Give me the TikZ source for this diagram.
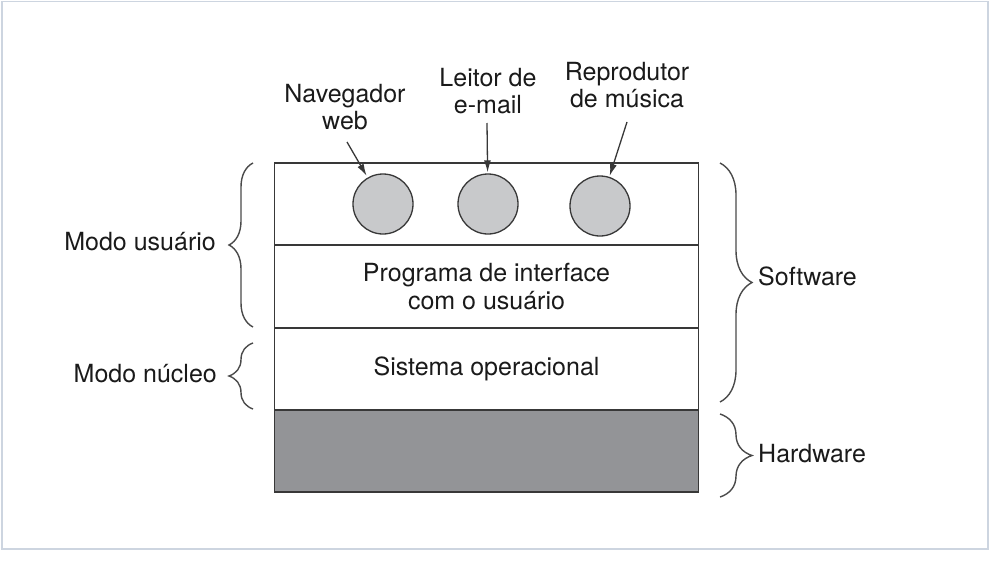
\documentclass[tikz,border=0pt]{standalone}
\usepackage{fontspec}
\setmainfont{TeX Gyre Heros}
\usetikzlibrary{decorations.pathreplacing,arrows.meta}
\definecolor{framec}{HTML}{CDD5E0}
\definecolor{linec}{HTML}{383838}
\definecolor{bracec}{HTML}{4A4A4A}
\definecolor{txtc}{HTML}{1A1A1A}
\definecolor{hwfill}{HTML}{939497}
\definecolor{cfill}{HTML}{C8C9CB}
\tikzset{
  layer/.style={draw=linec, line width=1.4pt, minimum width=424pt, minimum height=82pt, inner sep=0pt, outer sep=0pt, align=center, text=txtc},
  proc/.style={circle, draw=linec, line width=1.3pt, fill=cfill, minimum size=60pt, inner sep=0pt},
  lbl/.style={text=txtc, align=center, inner sep=0pt},
  arr/.style={draw=linec, line width=1.3pt, -{Latex[length=12pt,width=7pt]}},
  brc/.style={draw=bracec, line width=1.4pt, decorate, decoration={brace, amplitude=#1}},
}
\begin{document}
\begin{tikzpicture}[x=1pt, y=-1pt, font=\fontsize{25}{27.5}\selectfont]
\useasboundingbox (0,0) rectangle (991,562);
\draw[framec, line width=1.5pt] (2,1.5) rectangle (988,549);
% layers
\node[layer] (apps) at (486.5,204) {};
\node[layer] (ui) at (486.5,286.5) {Programa de interface\\com o usuário};
\node[layer] (os) at (486.5,369) {Sistema operacional};
\node[layer, fill=hwfill] (hw) at (486.5,451) {};
% processes
\node[proc] (c1) at (383,204) {};
\node[proc] (c2) at (488,204) {};
\node[proc] (c3) at (600,206) {};
% labels
\node[lbl] (nav) at (345,107) {Navegador\\web};
\node[lbl] (mail) at (488,91) {Leitor de\\e-mail};
\node[lbl] (mus) at (627,85) {Reprodutor\\de música};
\coordinate (s1) at (347,142);
\coordinate (s2) at (487,123);
\coordinate (s3) at (627,122);
\draw[arr, shorten >=2pt] (s1) -- (c1);
\draw[arr, shorten >=1pt] (s2) -- (c2);
\draw[arr, shorten >=1pt] (s3) -- (c3);
% braces left
\coordinate (bu1) at (253,327);
\coordinate (bu2) at (253,163);
\coordinate (bk1) at (253,409);
\coordinate (bk2) at (253,343);
\draw[brc=24pt] (bu1) -- (bu2);
\draw[brc=24pt] (bk1) -- (bk2);
\node[lbl, anchor=east] (mu) at (216,242) {Modo usuário};
\node[lbl, anchor=east] (mn) at (217,374) {Modo núcleo};
% braces right
\coordinate (bs1) at (720,163);
\coordinate (bs2) at (720,402);
\coordinate (bh1) at (720,414);
\coordinate (bh2) at (720,497);
\draw[brc=32pt] (bs1) -- (bs2);
\draw[brc=32pt] (bh1) -- (bh2);
\node[lbl, anchor=west] (sw) at (758,276) {Software};
\node[lbl, anchor=west] (hwl) at (758,454) {Hardware};
\end{tikzpicture}
\end{document}
